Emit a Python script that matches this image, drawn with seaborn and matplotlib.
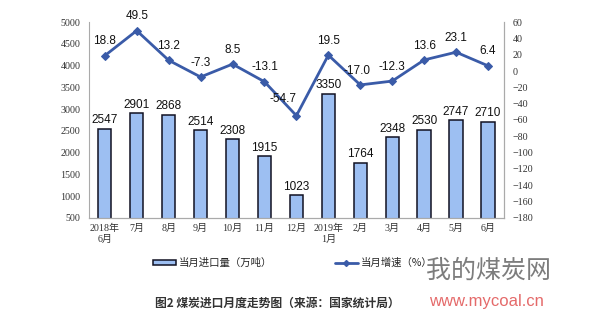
import matplotlib
matplotlib.use("Agg")
import matplotlib.pyplot as plt
import seaborn as sns
import pandas as pd
import numpy as np

months = ["2018年\n6月", "7月", "8月", "9月", "10月", "11月", "12月",
          "2019年\n1月", "2月", "3月", "4月", "5月", "6月"]
imports = [2547, 2901, 2868, 2514, 2308, 1915, 1023, 3350, 1764, 2348, 2530, 2747, 2710]
growth = [18.8, 49.5, 13.2, -7.3, 8.5, -13.1, -54.7, 19.5, -17.0, -12.3, 13.6, 23.1, 6.4]

sns.set_theme(style="white")
plt.rcParams['font.family'] = ['Liberation Sans', 'Noto Sans CJK SC', 'DejaVu Sans']

df = pd.DataFrame({"month": months, "imports": imports, "growth": growth})

fig = plt.figure(figsize=(6, 3.2), dpi=100)
ax = fig.add_axes([0.148, 0.319, 0.692, 0.612])

bar_color = "#9DBFF2"
line_color = "#3A5BA8"

sns.barplot(data=df, x="month", y="imports", ax=ax, color=bar_color,
            edgecolor="#111122", linewidth=1.1, width=0.42, saturation=1)
ax.set_ylim(500, 5000)
ax.set_xlim(-0.5, len(months) - 0.5)
ax.set_yticks(np.arange(500, 5001, 500))
ax.set_xlabel("")
ax.set_ylabel("")

tick_font = ['Liberation Serif', 'Noto Sans CJK SC']
ax.set_xticks(range(len(months)))
ax.set_xticklabels(months, fontsize=7.2, family=tick_font, color="#333333", linespacing=1.3)
for lbl in ax.get_yticklabels():
    lbl.set_fontsize(7.2)
    lbl.set_family(tick_font)
    lbl.set_color("#333333")
ax.tick_params(axis="x", length=0, pad=4)
ax.tick_params(axis="y", length=0, pad=6)
ax.set_xticks(np.arange(-0.5, len(months), 1), minor=True)
ax.tick_params(axis="x", which="minor", length=3, color="#aaaaaa", direction="out")

for i, v in enumerate(imports):
    ax.text(i, v + 60, str(v), ha="center", va="bottom", fontsize=8.5, color="#111111")

ax2 = ax.twinx()
sns.lineplot(data=df, x=np.arange(len(months)), y="growth", ax=ax2, color=line_color,
             linewidth=2, marker="D", markersize=4, markeredgecolor=line_color)
ax2.set_ylim(-180, 60)
ax2.set_yticks(np.arange(-180, 61, 20))
ax2.set_ylabel("")
for lbl in ax2.get_yticklabels():
    lbl.set_fontsize(7.2)
    lbl.set_family(tick_font)
    lbl.set_color("#333333")
ax2.tick_params(axis="y", length=0, pad=6)

offsets = {6: (-10, 8), 8: (-2, 6)}
for i, g in enumerate(growth):
    dx, dy = offsets.get(i, (0, 6))
    ax2.annotate(f"{g:.1f}", (i, g), xytext=(dx, dy), textcoords="offset points",
                 ha="center", va="bottom", fontsize=8.5, color="#111111")

for a in (ax, ax2):
    a.spines["top"].set_visible(False)
    for s in ("left", "right", "bottom"):
        a.spines[s].set_color("#aaaaaa")
        a.spines[s].set_linewidth(0.8)
ax2.spines["left"].set_visible(False)

from matplotlib.patches import Patch
from matplotlib.lines import Line2D
handles = [Patch(facecolor=bar_color, edgecolor="#111122", linewidth=1.1),
           Line2D([0], [0], color=line_color, lw=2, marker="D", markersize=3)]
fig.legend(handles, ["当月进口量（万吨）", "当月增速（%）"], loc="center",
           bbox_to_anchor=(0.488, 0.178), ncol=2, frameon=False,
           handlelength=2.2, handleheight=0.5, columnspacing=6, handletextpad=0.3,
           prop={'family': ['Noto Sans CJK SC'], 'size': 7.5})

fig.text(0.258, 0.053, "图2 煤炭进口月度走势图（来源：国家统计局）", fontsize=8.5,
         fontweight="bold", family=['Noto Sans CJK SC'], color="#333333", va="center")

fig.text(0.71, 0.155, "我的煤炭网", fontsize=18, family=['Noto Sans CJK SC'],
         color="#666666", va="center", alpha=0.85)
fig.text(0.715, 0.058, "www.mycoal.cn", fontsize=12, family=['Liberation Sans'],
         color="#e05050", va="center", alpha=0.85)

fig.savefig("out.png", dpi=100)
